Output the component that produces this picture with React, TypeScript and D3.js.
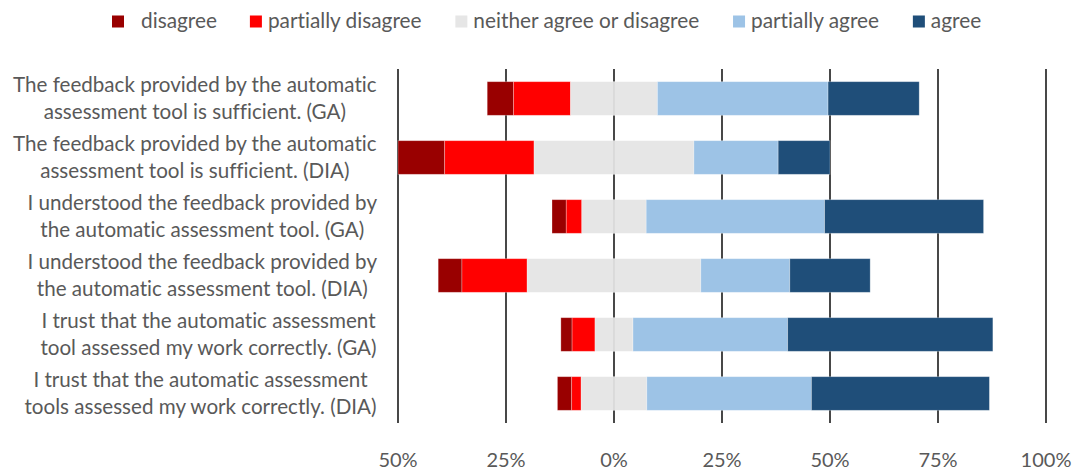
import React from "react";
import * as d3 from "d3";

const categories = [
  "The feedback provided by the automatic\nassessment tool is sufficient. (GA)",
  "The feedback provided by the automatic\nassessment tool is sufficient. (DIA)",
  "I understood the feedback provided by\nthe automatic assessment tool. (GA)",
  "I understood the feedback provided by\nthe automatic assessment tool. (DIA)",
  "I trust that the automatic assessment\ntool assessed my work correctly. (GA)",
  "I trust that the automatic assessment\ntools assessed my work correctly. (DIA)",
];

const seriesNames = ["disagree", "partially disagree", "neither agree or disagree", "partially agree", "agree"];
const seriesColors = ["#990000", "#FF0000", "#E6E6E6", "#9DC3E6", "#1F4E79"];

const disagree = [6.1, 10.8, 3.3, 5.5, 2.6, 3.3];
const partiallyDisagree = [13.2, 20.7, 3.6, 15.1, 5.3, 2.2];
const neither = [20.1, 37.0, 14.9, 40.2, 8.8, 15.2];
const partiallyAgree = [39.5, 19.5, 41.3, 20.6, 35.8, 38.1];
const agree = [21.1, 12.0, 36.8, 18.6, 47.5, 41.2];

const tickValues = [-50, -25, 0, 25, 50, 75, 100];
const tickLabels = ["50%", "25%", "0%", "25%", "50%", "75%", "100%"];

const FONT = "Lato, 'Liberation Sans', sans-serif";
const TEXT_COLOR = "#595959";
const noLig: React.CSSProperties = {
  fontVariantLigatures: "none",
  fontFeatureSettings: '"liga" 0, "clig" 0, "dlig" 0',
};

let ctx: CanvasRenderingContext2D | null = null;
function measure(text: string, size: number): number {
  if (!ctx) ctx = document.createElement("canvas").getContext("2d");
  if (!ctx) return text.length * size * 0.5;
  ctx.font = `${size}px Lato`;
  return ctx.measureText(text).width;
}

export default function App() {
  const W = 1075;
  const H = 470;
  const x = d3.scaleLinear().domain([-50, 100]).range([398, 1046]);
  const y = d3
    .scaleBand<number>()
    .domain(d3.range(categories.length))
    .range([69, 423])
    .paddingInner(0.43)
    .paddingOuter(0.215);

  const series = [disagree, partiallyDisagree, neither, partiallyAgree, agree];

  const catSize = 20.6;
  const lineGap = 27;
  const labelRight = 377;

  // legend layout
  const legendSize = 20.8;
  let cursor = 112;
  const legendItems = seriesNames.map((name, i) => {
    const sq = cursor;
    const tx = sq + 12 + (i === 0 ? 17 : 6);
    const w = measure(name, legendSize);
    cursor = tx + w + 33;
    return { name, sq, tx, color: seriesColors[i] };
  });

  return (
    <svg
      width={W}
      height={H}
      style={{ position: "absolute", left: 0, top: 0, background: "#fff", ...noLig }}
      fontFamily={FONT}
    >
      <rect x={0} y={0} width={W} height={H} fill="#fff" />
      {/* legend */}
      {legendItems.map((it) => (
        <g key={it.name}>
          <rect x={it.sq} y={15.5} width={12} height={12} fill={it.color} />
          <text x={it.tx} y={28} fontSize={legendSize} fill={TEXT_COLOR} style={noLig}>
            {it.name}
          </text>
        </g>
      ))}
      {/* gridlines */}
      {tickValues.map((t) => (
        <line key={t} x1={x(t)} x2={x(t)} y1={69} y2={423} stroke="#1a1a1a" strokeWidth={1.6} />
      ))}
      {/* bars */}
      {categories.map((_, i) => {
        const vals = series.map((s) => s[i]);
        const start = -(vals[0] + vals[1] + vals[2] / 2);
        const cums = d3.cumsum(vals);
        const y0 = y(i)!;
        const bh = y.bandwidth();
        return (
          <g key={i}>
            {vals.map((v, k) => {
              const a = start + (k === 0 ? 0 : cums[k - 1]);
              const b = start + cums[k];
              return (
                <rect
                  key={k}
                  x={x(a)}
                  y={y0}
                  width={x(b) - x(a)}
                  height={bh}
                  fill={seriesColors[k]}
                  stroke="#ffffff"
                  strokeOpacity={0.35}
                  strokeWidth={0.8}
                />
              );
            })}
            <line x1={x(0)} x2={x(0)} y1={y0} y2={y0 + bh} stroke="#cfcfcf" strokeWidth={1} />
          </g>
        );
      })}
      {/* category labels */}
      {categories.map((c, i) => {
        const lines = c.split("\n");
        const maxW = Math.max(...lines.map((l) => measure(l, catSize)));
        const cx = labelRight - maxW / 2;
        const cy = y(i)! + y.bandwidth() / 2;
        return (
          <text key={i} fontSize={catSize} fill={TEXT_COLOR} textAnchor="middle" style={noLig}>
            {lines.map((l, j) => (
              <tspan key={j} x={cx} y={cy + (j - (lines.length - 1) / 2) * lineGap + 7}>
                {l}
              </tspan>
            ))}
          </text>
        );
      })}
      {/* tick labels */}
      {tickValues.map((t, i) => (
        <text key={t} x={x(t)} y={467} fontSize={20} fill={TEXT_COLOR} textAnchor="middle" style={noLig}>
          {tickLabels[i]}
        </text>
      ))}
    </svg>
  );
}
